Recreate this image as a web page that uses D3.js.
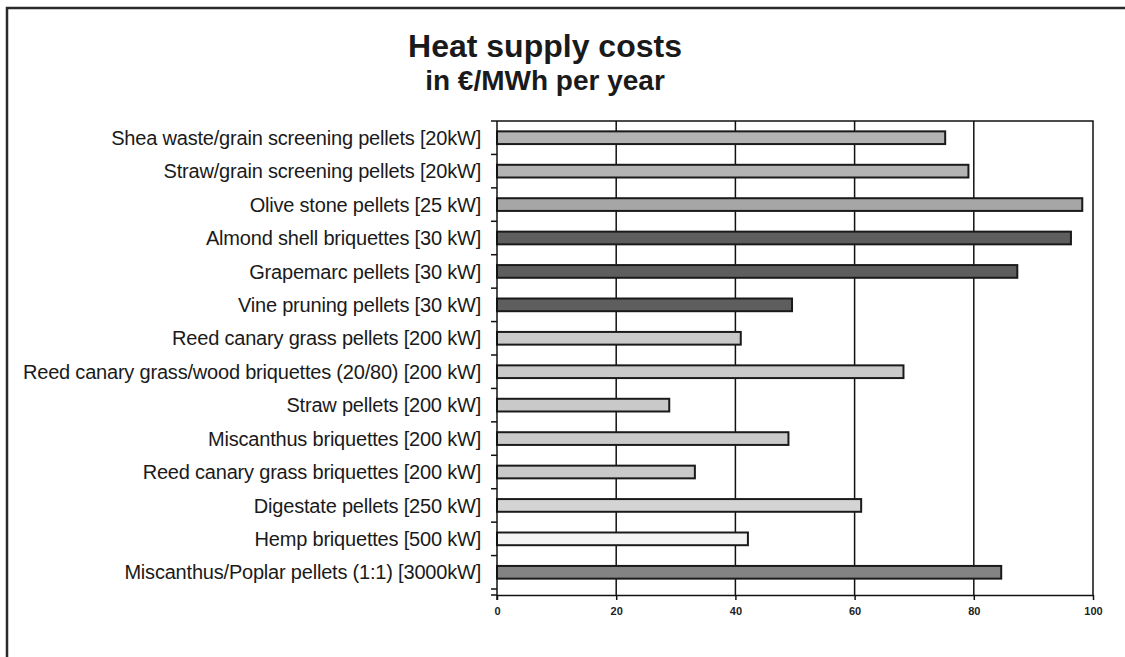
<!DOCTYPE html>
<html>
<head>
<meta charset="utf-8">
<script src="https://cdn.jsdelivr.net/npm/d3@7"></script>
<style>
  body { margin: 0; background: #fff; }
  text { font-family: "Liberation Sans", Arial, sans-serif; fill: #1a1a1a; }
</style>
</head>
<body>
<script>
// chart data
var categories = [
  'Shea waste/grain screening pellets [20kW]',
  'Straw/grain screening pellets [20kW]',
  'Olive stone pellets [25 kW]',
  'Almond shell briquettes [30 kW]',
  'Grapemarc pellets [30 kW]',
  'Vine pruning pellets [30 kW]',
  'Reed canary grass pellets [200 kW]',
  'Reed canary grass/wood briquettes (20/80) [200 kW]',
  'Straw pellets [200 kW]',
  'Miscanthus briquettes [200 kW]',
  'Reed canary grass briquettes [200 kW]',
  'Digestate pellets [250 kW]',
  'Hemp briquettes [500 kW]',
  'Miscanthus/Poplar pellets (1:1) [3000kW]'
];
var costs = [75.2, 79.1, 98.2, 96.3, 87.3, 49.5, 40.9, 68.2, 28.9, 48.9, 33.2, 61.1, 42.1, 84.6];
var xTicks = [0, 20, 40, 60, 80, 100];

// bar fills in the same order as categories
var barFills = ['#b3b3b3', '#b3b3b3', '#a6a6a6', '#5e5e5e', '#5e5e5e', '#5e5e5e',
  '#c9c9c9', '#c9c9c9', '#c9c9c9', '#c9c9c9', '#c9c9c9', '#d4d4d4', '#f4f4f4', '#838383'];

var width = 1125, height = 657;
var plotL = 497, plotR = 1093, plotT = 121, plotB = 595;
var bandB = 589; // categories stop a little above the value axis

var svg = d3.select('body').append('svg')
  .attr('width', width)
  .attr('height', height);

svg.append('rect').attr('width', width).attr('height', height).attr('fill', '#fff');

// outer frame (only left and top edges show)
svg.append('path')
  .attr('d', 'M7,' + height + 'V8H' + width)
  .attr('fill', 'none')
  .attr('stroke', '#2a2a2a')
  .attr('stroke-width', 2.5);

svg.append('text')
  .attr('x', 545).attr('y', 57)
  .attr('text-anchor', 'middle')
  .style('font-size', '32px').style('font-weight', 'bold')
  .text('Heat supply costs');

svg.append('text')
  .attr('x', 545).attr('y', 90)
  .attr('text-anchor', 'middle')
  .style('font-size', '28px').style('font-weight', 'bold')
  .text('in €/MWh per year');

var x = d3.scaleLinear().domain([0, 100]).range([plotL, plotR]);
var y = d3.scaleBand().domain(categories).range([plotT, bandB])
  .paddingInner(0.62).paddingOuter(0.31);

// grid lines
svg.append('g').selectAll('line')
  .data(xTicks.slice(1, -1))
  .enter().append('line')
  .attr('x1', d => x(d)).attr('x2', d => x(d))
  .attr('y1', plotT).attr('y2', plotB)
  .attr('stroke', '#111').attr('stroke-width', 1.5);

// plot frame top + right
svg.append('path')
  .attr('d', 'M' + plotL + ',' + plotT + 'H' + plotR + 'V' + plotB)
  .attr('fill', 'none')
  .attr('stroke', '#111').attr('stroke-width', 1.5);

// bars
svg.append('g').selectAll('rect')
  .data(costs)
  .enter().append('rect')
  .attr('x', x(0))
  .attr('y', (d, i) => y(categories[i]))
  .attr('width', d => x(d) - x(0))
  .attr('height', y.bandwidth())
  .attr('fill', (d, i) => barFills[i])
  .attr('stroke', '#1a1a1a')
  .attr('stroke-width', 2);

// x axis
var xAxis = d3.axisBottom(x).tickValues(xTicks).tickSize(5).tickSizeOuter(0);
var gx = svg.append('g')
  .attr('transform', 'translate(0,' + plotB + ')')
  .call(xAxis);
gx.select('.domain').attr('stroke', '#111').attr('stroke-width', 1.5);
gx.selectAll('.tick line').attr('stroke', '#111').attr('stroke-width', 1.5);
gx.selectAll('.tick text')
  .attr('y', 12)
  .style('font-size', '11px')
  .style('font-weight', 'bold')
  .style('font-family', '"Liberation Sans Narrow", "Liberation Sans", Arial, sans-serif')
  .style('fill', '#222');

// y axis: ticks sit on band boundaries
var boundaries = d3.range(categories.length + 1).map(i => plotT + i * (bandB - plotT) / categories.length);
boundaries.push(plotB);
var gy = svg.append('g');
gy.append('line')
  .attr('x1', plotL).attr('x2', plotL)
  .attr('y1', plotT).attr('y2', plotB + 5)
  .attr('stroke', '#111').attr('stroke-width', 1.5);
gy.selectAll('line.tk')
  .data(boundaries)
  .enter().append('line')
  .attr('class', 'tk')
  .attr('x1', plotL - 6).attr('x2', plotL)
  .attr('y1', d => d).attr('y2', d => d)
  .attr('stroke', '#111').attr('stroke-width', 1.5);

gy.selectAll('text')
  .data(categories)
  .enter().append('text')
  .attr('x', plotL - 16)
  .attr('y', d => y(d) + y.bandwidth() / 2)
  .attr('dy', '0.36em')
  .attr('text-anchor', 'end')
  .style('font-size', '20px')
  .style('letter-spacing', '-0.2px')
  .text(d => d);
</script>
</body>
</html>
